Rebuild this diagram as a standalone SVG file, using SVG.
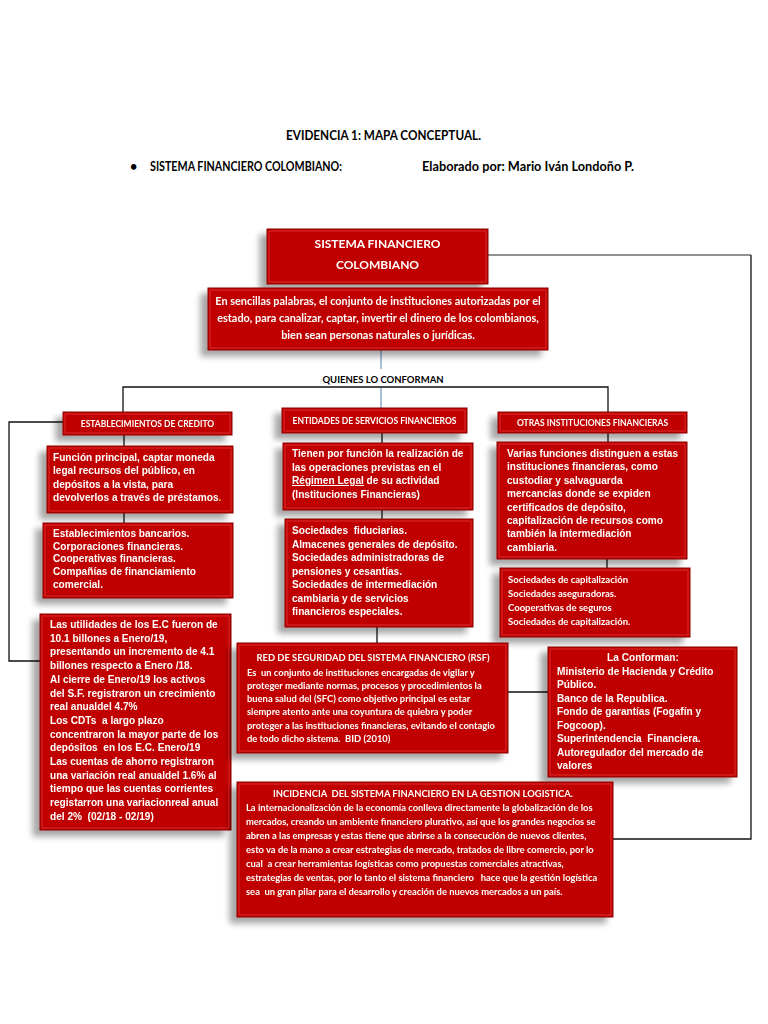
<svg xmlns="http://www.w3.org/2000/svg" width="768" height="1024" viewBox="0 0 768 1024">
<defs>
<filter id="sh" x="-20%" y="-20%" width="140%" height="160%">
<feGaussianBlur in="SourceAlpha" stdDeviation="3"/>
<feOffset dx="-7" dy="6"/>
<feComponentTransfer><feFuncA type="linear" slope="0.35"/></feComponentTransfer>
<feMerge><feMergeNode/><feMergeNode in="SourceGraphic"/></feMerge>
</filter>
<style>
.b{fill:#C00000;stroke:#8A0000;stroke-width:1}
.hl{fill:none;stroke:#E03434;stroke-width:1.2;opacity:.7}
.node{filter:url(#sh)}
.cal{font-family:Lato,"Open Sans",sans-serif;font-weight:bold;fill:#fff;white-space:pre}
.ari{font-family:"Liberation Sans",Arial,sans-serif;font-weight:bold;fill:#fff;font-size:10.1px;white-space:pre}
.hd{font-family:Lato,"Open Sans",sans-serif;font-weight:bold;fill:#000}
.c{fill:none;stroke:#111;stroke-width:1.3}
.cg{fill:none;stroke:#6d6d6d;stroke-width:1.5}
.cb{fill:none;stroke:#8EA9C8;stroke-width:1.5}
</style>
</defs>
<rect width="768" height="1024" fill="#fff"/>

<g id="header">
<text class="hd" x="383.5" y="140" font-size="13" text-anchor="middle" textLength="195" lengthAdjust="spacingAndGlyphs">EVIDENCIA 1: MAPA CONCEPTUAL.</text>
<text class="hd" x="130" y="171" font-size="12.5">•</text>
<text class="hd" x="150" y="171" font-size="13" textLength="192" lengthAdjust="spacingAndGlyphs">SISTEMA FINANCIERO COLOMBIANO:</text>
<text class="hd" x="422" y="171" font-size="13" textLength="212" lengthAdjust="spacingAndGlyphs">Elaborado por: Mario Iván Londoño P.</text>
</g>

<g id="connectors">
<polyline class="cg" points="488,255 751,255"/>
<polyline class="c" points="751,255 751,839 613,839"/>
<line class="cb" x1="381" y1="350" x2="381" y2="369"/>
<line class="cb" x1="381" y1="388" x2="381" y2="408"/>
<polyline class="c" points="123,412 123,387 608,387 608,412"/>
<line class="c" x1="124" y1="435" x2="124" y2="446"/>
<line class="c" x1="124" y1="513" x2="124" y2="523"/>
<line class="c" x1="382" y1="433" x2="382" y2="443"/>
<line class="c" x1="382" y1="510" x2="382" y2="519"/>
<line class="c" x1="608" y1="433" x2="608" y2="442"/>
<line class="c" x1="607" y1="559" x2="607" y2="568"/>
<polyline class="c" points="63,422 9,422 9,661 40,661"/>
<line class="c" x1="377" y1="627" x2="377" y2="643"/>
<line class="c" x1="508" y1="692" x2="548" y2="692"/>
</g>

<g id="sistema" class="node">
<rect class="b" x="267" y="229" width="221" height="55"/>
<rect class="hl" x="269" y="231" width="217" height="51"/>
<text class="cal" x="377.5" y="248" font-size="12" text-anchor="middle">SISTEMA FINANCIERO</text>
<text class="cal" x="377.5" y="269" font-size="12" text-anchor="middle">COLOMBIANO</text>
</g>

<g id="definicion" class="node">
<rect class="b" x="208" y="288" width="340" height="62"/>
<rect class="hl" x="210" y="290" width="336" height="58"/>
<text class="cal" x="378" y="305" font-size="10.9" text-anchor="middle">En sencillas palabras, el conjunto de instituciones autorizadas por el</text>
<text class="cal" x="378" y="322" font-size="10.9" text-anchor="middle">estado, para canalizar, captar, invertir el dinero de los colombianos,</text>
<text class="cal" x="378" y="339" font-size="10.9" text-anchor="middle">bien sean personas naturales o jurídicas.</text>
</g>

<g id="quienes">
<text class="hd" x="383" y="383" font-size="9.5" text-anchor="middle">QUIENES LO CONFORMAN</text>
</g>

<g id="establecimientos" class="node">
<rect class="b" x="63" y="412" width="169" height="23"/>
<rect class="hl" x="65" y="414" width="165" height="19"/>
<text class="cal" x="147.5" y="426.5" font-size="8.5" text-anchor="middle">ESTABLECIMIENTOS DE CREDITO</text>
</g>

<g id="entidades" class="node">
<rect class="b" x="282" y="408" width="185" height="25"/>
<rect class="hl" x="284" y="410" width="181" height="21"/>
<text class="cal" x="374.5" y="423.5" font-size="8.5" text-anchor="middle">ENTIDADES DE SERVICIOS FINANCIEROS</text>
</g>

<g id="otras" class="node">
<rect class="b" x="498" y="412" width="189" height="21"/>
<rect class="hl" x="500" y="414" width="185" height="17"/>
<text class="cal" x="592.5" y="425.5" font-size="8.5" text-anchor="middle">OTRAS INSTITUCIONES FINANCIERAS</text>
</g>

<g id="funcion-credito" class="node">
<rect class="b" x="47" y="446" width="186" height="67"/>
<rect class="hl" x="49" y="448" width="182" height="63"/>
<text class="ari" x="53" y="461">Función principal, captar moneda</text>
<text class="ari" x="53" y="474.3">legal recursos del público, en</text>
<text class="ari" x="53" y="487.6">depósitos a la vista, para</text>
<text class="ari" x="53" y="501">devolverlos a través de préstamos<tspan fill="#FFC000">.</tspan></text>
</g>

<g id="lista-credito" class="node">
<rect class="b" x="43" y="523" width="190" height="75"/>
<rect class="hl" x="45" y="525" width="186" height="71"/>
<text class="ari" x="53" y="537">Establecimientos bancarios.</text>
<text class="ari" x="53" y="549.7">Corporaciones financieras.</text>
<text class="ari" x="53" y="562.4">Cooperativas financieras.</text>
<text class="ari" x="53" y="575.1">Compañías de financiamiento</text>
<text class="ari" x="53" y="587.8">comercial.</text>
</g>

<g id="funcion-servicios" class="node">
<rect class="b" x="283" y="443" width="190" height="67"/>
<rect class="hl" x="285" y="445" width="186" height="63"/>
<text class="ari" x="292" y="457">Tienen por función la realización de</text>
<text class="ari" x="292" y="470.5">las operaciones previstas en el</text>
<text class="ari" x="292" y="484"><tspan text-decoration="underline">Régimen Legal</tspan> de su actividad</text>
<text class="ari" x="292" y="497.5">(Instituciones Financieras)</text>
</g>

<g id="lista-servicios" class="node">
<rect class="b" x="285" y="519" width="188" height="108"/>
<rect class="hl" x="287" y="521" width="184" height="104"/>
<text class="ari" x="292" y="534">Sociedades  fiduciarias.</text>
<text class="ari" x="292" y="547.5">Almacenes generales de depósito.</text>
<text class="ari" x="292" y="561">Sociedades administradoras de</text>
<text class="ari" x="292" y="574.5">pensiones y cesantías.</text>
<text class="ari" x="292" y="588">Sociedades de intermediación</text>
<text class="ari" x="292" y="601.5">cambiaria y de servicios</text>
<text class="ari" x="292" y="615">financieros especiales.</text>
</g>

<g id="funcion-otras" class="node">
<rect class="b" x="497" y="442" width="190" height="117"/>
<rect class="hl" x="499" y="444" width="186" height="113"/>
<text class="ari" x="507" y="457">Varias funciones distinguen a estas</text>
<text class="ari" x="507" y="470.4">instituciones financieras, como</text>
<text class="ari" x="507" y="483.8">custodiar y salvaguarda</text>
<text class="ari" x="507" y="497.2">mercancías donde se expiden</text>
<text class="ari" x="507" y="510.6">certificados de depósito,</text>
<text class="ari" x="507" y="524">capitalización de recursos como</text>
<text class="ari" x="507" y="537.4">también la intermediación</text>
<text class="ari" x="507" y="550.8">cambiaria.</text>
</g>

<g id="lista-otras" class="node">
<rect class="b" x="500" y="568" width="190" height="69"/>
<rect class="hl" x="502" y="570" width="186" height="65"/>
<text class="cal" x="508" y="582.5" font-size="9.5">Sociedades de capitalización</text>
<text class="cal" x="508" y="596.5" font-size="9.5">Sociedades aseguradoras.</text>
<text class="cal" x="508" y="610.5" font-size="9.5">Cooperativas de seguros</text>
<text class="cal" x="508" y="625" font-size="9.5">Sociedades de capitalización.</text>
</g>

<g id="utilidades" class="node">
<rect class="b" x="40" y="614" width="191" height="216"/>
<rect class="hl" x="42" y="616" width="187" height="212"/>
<text class="ari" x="50" y="628">Las utilidades de los E.C fueron de</text>
<text class="ari" x="50" y="641.7">10.1 billones a Enero/19,</text>
<text class="ari" x="50" y="655.4">presentando un incremento de 4.1</text>
<text class="ari" x="50" y="669.1">billones respecto a Enero /18.</text>
<text class="ari" x="50" y="682.8">Al cierre de Enero/19 los activos</text>
<text class="ari" x="50" y="696.5">del S.F. registraron un crecimiento</text>
<text class="ari" x="50" y="710.2">real anualdel 4.7%</text>
<text class="ari" x="50" y="723.9">Los CDTs  a largo plazo</text>
<text class="ari" x="50" y="737.6">concentraron la mayor parte de los</text>
<text class="ari" x="50" y="751.3">depósitos  en los E.C. Enero/19</text>
<text class="ari" x="50" y="765">Las cuentas de ahorro registraron</text>
<text class="ari" x="50" y="778.7">una variación real anualdel 1.6% al</text>
<text class="ari" x="50" y="792.4">tiempo que las cuentas corrientes</text>
<text class="ari" x="50" y="806.1">registarron una variacionreal anual</text>
<text class="ari" x="50" y="819.8">del 2%  (02/18 - 02/19)</text>
</g>

<g id="rsf" class="node">
<rect class="b" x="237" y="643" width="271" height="110"/>
<rect class="hl" x="239" y="645" width="267" height="106"/>
<text class="cal" x="373" y="660.5" font-size="9.4" text-anchor="middle">RED DE SEGURIDAD DEL SISTEMA FINANCIERO (RSF)</text>
<text class="cal" x="247" y="675.5" font-size="9.4">Es  un conjunto de instituciones encargadas de vigilar y</text>
<text class="cal" x="247" y="688.8" font-size="9.4">proteger mediante normas, procesos y procedimientos la</text>
<text class="cal" x="247" y="702.1" font-size="9.4">buena salud del (SFC) como objetivo principal es estar</text>
<text class="cal" x="247" y="715.4" font-size="9.4">siempre atento ante una coyuntura de quiebra y poder</text>
<text class="cal" x="247" y="728.7" font-size="9.4">proteger a las instituciones financieras, evitando el contagio</text>
<text class="cal" x="247" y="742" font-size="9.4">de todo dicho sistema.  BID (2010)</text>
</g>

<g id="conforman" class="node">
<rect class="b" x="548" y="647" width="189" height="130"/>
<rect class="hl" x="550" y="649" width="185" height="126"/>
<text class="ari" x="643" y="661" text-anchor="middle">La Conforman:</text>
<text class="ari" x="557" y="674.5">Ministerio de Hacienda y Crédito</text>
<text class="ari" x="557" y="688">Público.</text>
<text class="ari" x="557" y="701.5">Banco de la Republica.</text>
<text class="ari" x="557" y="715">Fondo de garantías (Fogafín y</text>
<text class="ari" x="557" y="728.5">Fogcoop).</text>
<text class="ari" x="557" y="742">Superintendencia  Financiera.</text>
<text class="ari" x="557" y="755.5">Autoregulador del mercado de</text>
<text class="ari" x="557" y="769">valores</text>
</g>

<g id="incidencia" class="node">
<rect class="b" x="237" y="782" width="376" height="135"/>
<rect class="hl" x="239" y="784" width="372" height="131"/>
<text class="cal" x="423" y="796.5" font-size="9.4" text-anchor="middle">INCIDENCIA  DEL SISTEMA FINANCIERO EN LA GESTION LOGISTICA.</text>
<text class="cal" x="246" y="810.5" font-size="9.4">La internacionalización de la economía conlleva directamente la globalización de los</text>
<text class="cal" x="246" y="824.5" font-size="9.4">mercados, creando un ambiente financiero plurativo, así que los grandes negocios se</text>
<text class="cal" x="246" y="838.5" font-size="9.4">abren a las empresas y estas tiene que abrirse a la consecución de nuevos clientes,</text>
<text class="cal" x="246" y="852.5" font-size="9.4">esto va de la mano a crear estrategias de mercado, tratados de libre comercio, por lo</text>
<text class="cal" x="246" y="866.5" font-size="9.4">cual  a crear herramientas logísticas como propuestas comerciales atractivas,</text>
<text class="cal" x="246" y="880.5" font-size="9.4">estrategias de ventas, por lo tanto el sistema financiero   hace que la gestión logística</text>
<text class="cal" x="246" y="894.5" font-size="9.4">sea  un gran pilar para el desarrollo y creación de nuevos mercados a un país.</text>
</g>
</svg>
